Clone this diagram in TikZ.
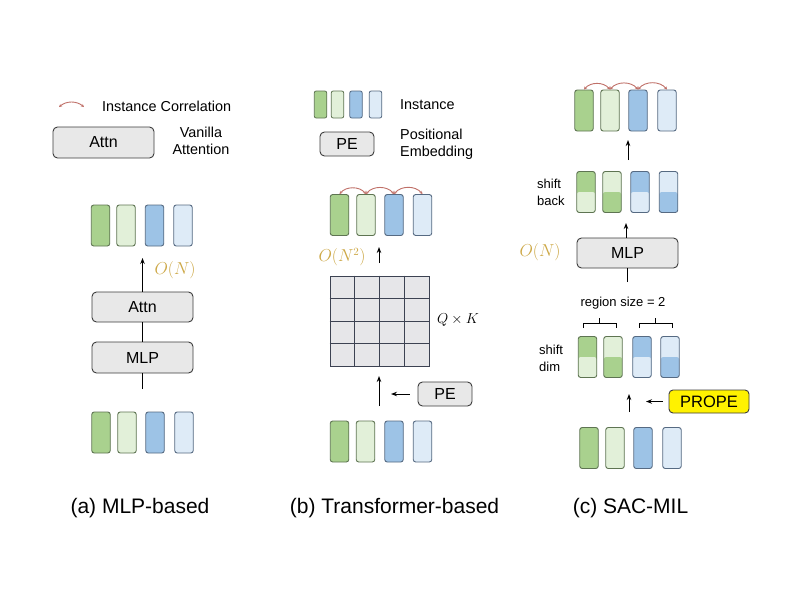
\documentclass[tikz,border=0pt]{standalone}
\usepackage{fontspec}
\setmainfont{Liberation Sans}
\usetikzlibrary{arrows.meta,calc}
\definecolor{gA}{HTML}{A9D18E}
\definecolor{gB}{HTML}{E2F0D9}
\definecolor{bA}{HTML}{9DC3E6}
\definecolor{bB}{HTML}{DEEBF7}
\definecolor{gLine}{HTML}{5E7452}
\definecolor{bLine}{HTML}{566A82}
\definecolor{boxFill}{HTML}{E8E8E8}
\definecolor{boxLine}{HTML}{3C3C3C}
\definecolor{gold}{RGB}{205,168,70}
\definecolor{corrCol}{RGB}{192,112,104}
\definecolor{gridFill}{RGB}{230,230,233}
\definecolor{gridLine}{RGB}{60,66,82}
\tikzset{
  bar/.style={draw, line width=0.9pt, rounded corners=2.5pt, minimum width=18.5pt, minimum height=41pt, inner sep=0pt},
  sbar/.style={draw, line width=0.8pt, rounded corners=2pt, minimum width=12.5pt, minimum height=27pt, inner sep=0pt},
  gd/.style={fill=gA, draw=gLine},
  gl/.style={fill=gB, draw=gLine},
  bd/.style={fill=bA, draw=bLine},
  bl/.style={fill=bB, draw=bLine},
  halfbar/.style n args={3}{fill=#1, draw=#3, path picture={\fill[#2] (path picture bounding box.west) rectangle (path picture bounding box.south east);}},
  opbox/.style={draw=boxLine, fill=boxFill, line width=0.9pt, rounded corners=4.5pt, inner sep=0pt, font=\fontsize{16}{18}\selectfont},
  arr/.style={line width=1pt, -{Stealth[length=6pt,width=4.5pt]}},
  plain/.style={line width=1pt},
  corr/.style={draw=corrCol, line width=0.9pt, {Stealth[length=3pt,width=3pt]}-{Stealth[length=3pt,width=3pt]}},
  lbl/.style={font=\fontsize{14.4}{17}\selectfont, inner sep=0pt},
  slbl/.style={font=\fontsize{13}{17}\selectfont, inner sep=0pt, align=left},
  cplx/.style={text=gold, font=\fontsize{16}{18}\selectfont, inner sep=0pt},
  captxt/.style={font=\fontsize{21}{24}\selectfont, inner sep=0pt}
}
\begin{document}
\begin{tikzpicture}[x=1pt,y=1pt]
\path[use as bounding box, fill=white] (0,0) rectangle (800,-600);

% ---------------- (a) legend ----------------
\coordinate (la1) at (59,-107);
\coordinate (la2) at (84,-107);
\draw[corr] (la1) to[bend left=40] (la2);
\node[lbl, anchor=west] (lcorr) at (102,-106) {Instance Correlation};
\node[opbox, minimum width=101pt, minimum height=31pt] (lattn) at (103.5,-142.5) {Attn};
\node[lbl, align=center] (lvan) at (201,-140.5) {Vanilla\\Attention};

% ---------------- (a) MLP-based ----------------
\node[bar,gd] (at1) at (100.5,-225.5) {};
\node[bar,gl] (at2) at (126,-225.5) {};
\node[bar,bd] (at3) at (154.5,-225.5) {};
\node[bar,bl] (at4) at (183,-225.5) {};
\node[opbox, minimum width=101pt, minimum height=30pt] (aattn) at (142.5,-307) {Attn};
\node[opbox, minimum width=101pt, minimum height=31pt] (amlp) at (142.5,-357.5) {MLP};
\coordinate (ain) at (142.5,-389);
\coordinate (aout) at (142.5,-258);
\draw[plain] (ain) -- (amlp);
\draw[plain] (amlp) -- (aattn);
\draw[arr] (aattn) -- (aout);
\node[cplx] (aon) at (175,-270) {$O(N)$};
\node[bar,gd] (ab1) at (101,-432.5) {};
\node[bar,gl] (ab2) at (127,-432.5) {};
\node[bar,bd] (ab3) at (155,-432.5) {};
\node[bar,bl] (ab4) at (184,-432.5) {};
\node[captxt] (capa) at (140,-508) {(a) MLP-based};

% ---------------- (b) legend ----------------
\node[sbar,gd] (ls1) at (320.5,-104.5) {};
\node[sbar,gl] (ls2) at (337.5,-104.5) {};
\node[sbar,bd] (ls3) at (356,-104.5) {};
\node[sbar,bl] (ls4) at (375.5,-104.5) {};
\node[lbl, anchor=west] (linst) at (400,-105) {Instance};
\node[opbox, minimum width=54pt, minimum height=24pt] (lpe) at (347,-144) {PE};
\node[lbl, anchor=west, align=left] (lpos) at (400,-144) {Positional\\Embedding};

% ---------------- (b) Transformer-based ----------------
\node[bar,gd] (bt1) at (339.5,-215) {};
\node[bar,gl] (bt2) at (366,-215) {};
\node[bar,bd] (bt3) at (394,-215) {};
\node[bar,bl] (bt4) at (422.5,-215) {};
\draw[corr] (bt1.north) to[bend left=50] (bt2.north);
\draw[corr] (bt2.north) to[bend left=50] (bt3.north);
\draw[corr] (bt3.north) to[bend left=50] (bt4.north);
\node[draw=gridLine, fill=gridFill, line width=0.9pt, minimum width=99pt, minimum height=90pt, inner sep=0pt] (grid) at (379.5,-321) {};
\foreach \i in {1,2,3} {
  \draw[gridLine, line width=0.9pt] ($(grid.north west)!\i/4!(grid.north east)$) -- ($(grid.south west)!\i/4!(grid.south east)$);
  \draw[gridLine, line width=0.9pt] ($(grid.north west)!\i/4!(grid.south west)$) -- ($(grid.north east)!\i/4!(grid.south east)$);
}
\node[font=\fontsize{15}{18}\selectfont, inner sep=0pt] (qk) at (458,-320) {$Q\times K$};
\coordinate (bo1) at (379,-263);
\coordinate (bo2) at (379,-247);
\draw[arr] (bo1) -- (bo2);
\node[cplx] (bon) at (342,-257) {$O(N^2)$};
\coordinate (bi1) at (379,-406);
\coordinate (bi2) at (379,-376);
\draw[arr] (bi1) -- (bi2);
\node[opbox, minimum width=54pt, minimum height=24pt] (bpe) at (445,-394) {PE};
\coordinate (bpa) at (391,-394);
\draw[arr, shorten <=8pt] (bpe) -- (bpa);
\node[bar,gd] (bb1) at (339.5,-441.5) {};
\node[bar,gl] (bb2) at (365.5,-441.5) {};
\node[bar,bd] (bb3) at (394,-441.5) {};
\node[bar,bl] (bb4) at (422.5,-441.5) {};
\node[captxt] (capb) at (394.5,-508) {(b) Transformer-based};

% ---------------- (c) SAC-MIL ----------------
\node[bar,gd] (ct1) at (584,-110.5) {};
\node[bar,gl] (ct2) at (610,-110.5) {};
\node[bar,bd] (ct3) at (638,-110.5) {};
\node[bar,bl] (ct4) at (667,-110.5) {};
\draw[corr] (ct1.north) to[bend left=50] (ct2.north);
\draw[corr] (ct2.north) to[bend left=50] (ct3.north);
\draw[corr] (ct3.north) to[bend left=50] (ct4.north);
\coordinate (cu1) at (628,-160);
\coordinate (cu2) at (628,-140);
\draw[arr] (cu1) -- (cu2);
\node[bar,halfbar={gA}{gB}{gLine}] (cs1) at (586,-192) {};
\node[bar,halfbar={gB}{gA}{gLine}] (cs2) at (612,-192) {};
\node[bar,halfbar={bA}{bB}{bLine}] (cs3) at (640,-192) {};
\node[bar,halfbar={bB}{bA}{bLine}] (cs4) at (668.5,-192) {};
\node[slbl, anchor=west] (cback) at (537,-192) {shift\\back};
\node[opbox, minimum width=101pt, minimum height=30pt] (cmlp) at (627.5,-253) {MLP};
\coordinate (cm1) at (626,-223);
\coordinate (cm0) at (627,-282);
\draw[arr] (cmlp.north -| cm1) -- (cm1);
\draw[plain] (cm0) -- (cmlp.south -| cm0);
\node[cplx] (con) at (540,-252) {$O(N)$};
\node[slbl] (creg) at (623,-303) {region size = 2};
\draw[line width=0.9pt] (583,-328) -- (583,-323) -- (616,-323) -- (616,-328);
\draw[line width=0.9pt] (599.5,-323) -- (599.5,-318);
\draw[line width=0.9pt] (639,-328) -- (639,-323) -- (672,-323) -- (672,-328);
\draw[line width=0.9pt] (655.5,-323) -- (655.5,-318);
\node[bar,halfbar={gA}{gB}{gLine}] (cd1) at (587.5,-357) {};
\node[bar,halfbar={gB}{gA}{gLine}] (cd2) at (613,-357) {};
\node[bar,halfbar={bA}{bB}{bLine}] (cd3) at (642,-357) {};
\node[bar,halfbar={bB}{bA}{bLine}] (cd4) at (670,-357) {};
\node[slbl, anchor=west] (cdim) at (539,-358) {shift\\dim};
\coordinate (cp1) at (629,-412);
\coordinate (cp2) at (629,-394);
\draw[arr] (cp1) -- (cp2);
\node[draw=boxLine, fill=yellow, line width=0.9pt, rounded corners=4pt, minimum width=80pt, minimum height=23pt, inner sep=0pt, font=\fontsize{16.5}{18}\selectfont] (prope) at (709,-401.5) {PROPE};
\coordinate (cpa) at (646,-401.5);
\draw[arr, shorten <=6pt] (prope) -- (cpa);
\node[bar,gd] (cb1) at (589,-448) {};
\node[bar,gl] (cb2) at (615,-448) {};
\node[bar,bd] (cb3) at (643,-448) {};
\node[bar,bl] (cb4) at (672,-448) {};
\node[captxt] (capc) at (630.5,-508) {(c) SAC-MIL};
\end{tikzpicture}
\end{document}
